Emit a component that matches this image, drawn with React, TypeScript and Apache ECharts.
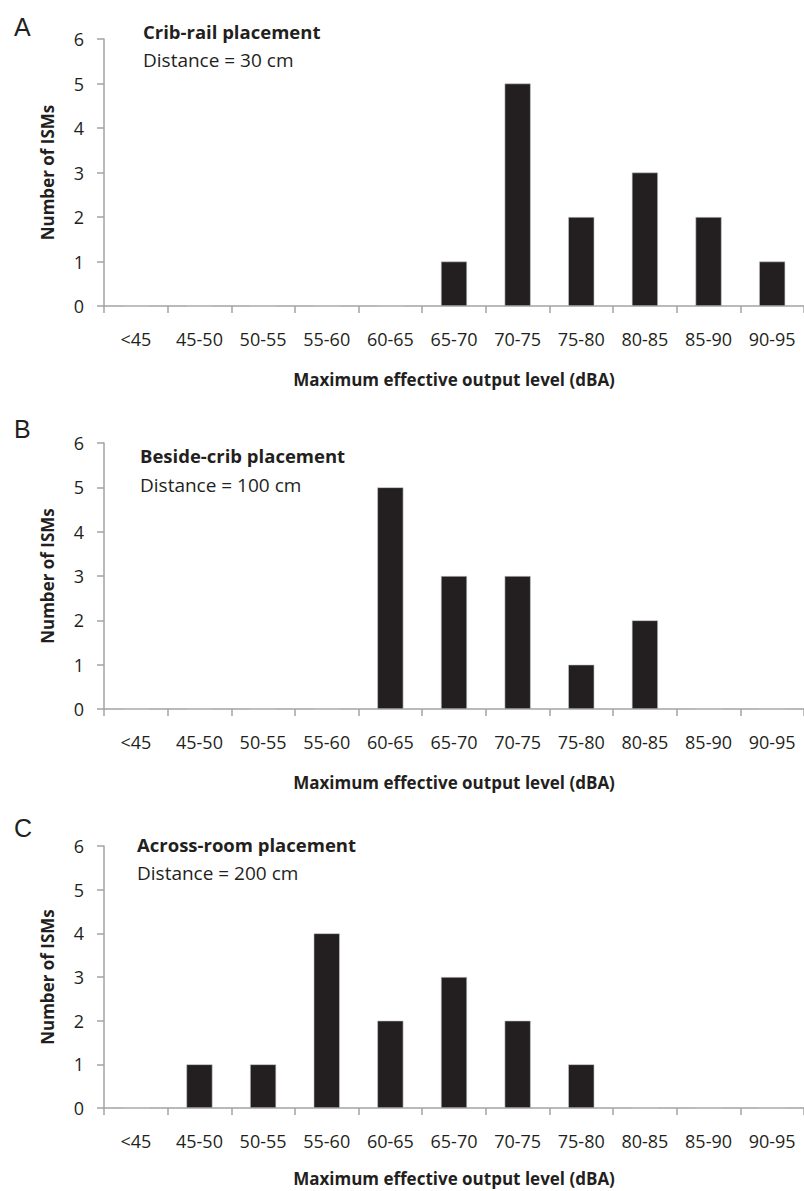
import React, { useEffect, useRef } from "react";
import * as echarts from "echarts";

const categories = ["<45", "45-50", "50-55", "55-60", "60-65", "65-70", "70-75", "75-80", "80-85", "85-90", "90-95"];
const cribRail = [0, 0, 0, 0, 0, 1, 5, 2, 3, 2, 1];
const besideCrib = [0, 0, 0, 0, 5, 3, 3, 1, 2, 0, 0];
const acrossRoom = [0, 1, 1, 4, 2, 3, 2, 1, 0, 0, 0];
const yTicks = [0, 1, 2, 3, 4, 5, 6];

const panelLetters = ["A", "B", "C"];
const panelTitles = ["Crib-rail placement", "Beside-crib placement", "Across-room placement"];
const panelSubtitles = ["Distance = 30 cm", "Distance = 100 cm", "Distance = 200 cm"];
const xTitle = "Maximum effective output level (dBA)";
const yTitle = "Number of ISMs";

const FONT = "Open Sans";
const AXIS_COLOR = "#a3a3a3";
const TEXT_COLOR = "#231f20";
const BAR_COLOR = "#231f20";

export default function App() {
  const ref = useRef<HTMLDivElement>(null);
  useEffect(() => {
    document.body.style.margin = "0";
    const chart = echarts.init(ref.current!, null, { renderer: "svg" });
    const grids = [
      { left: 104, right: 0, top: 39, height: 267 },
      { left: 104, right: 0, top: 443, height: 266 },
      { left: 104, right: 0, top: 846, height: 262 },
    ];
    const data = [cribRail, besideCrib, acrossRoom];
    const letterTops = [14, 416, 815];
    const titleTops = [22, 446, 835];
    const subTops = [50, 475, 863];
    const titleLefts = [143, 140, 137];
    const xNameGaps = [65, 65, 62];

    const titles: any[] = [];
    for (let i = 0; i < 3; i++) {
      titles.push({
        text: panelLetters[i],
        left: 14,
        top: letterTops[i],
        padding: 0,
        textStyle: { fontFamily: "Liberation Sans", fontWeight: "normal", fontSize: 25, color: TEXT_COLOR },
      });
      titles.push({
        text: panelTitles[i],
        left: titleLefts[i],
        top: titleTops[i],
        padding: 0,
        textStyle: { fontFamily: FONT, fontWeight: "bold", fontSize: 18.5, color: TEXT_COLOR },
      });
      titles.push({
        text: panelSubtitles[i],
        left: titleLefts[i],
        top: subTops[i],
        padding: 0,
        textStyle: { fontFamily: FONT, fontWeight: "normal", fontSize: 19, color: TEXT_COLOR },
      });
    }

    const option: any = {
      animation: false,
      backgroundColor: "#ffffff",
      title: titles,
      grid: grids,
      xAxis: grids.map((_, i) => ({
        type: "category",
        gridIndex: i,
        data: categories,
        name: xTitle,
        nameLocation: "middle",
        nameGap: xNameGaps[i],
        nameTextStyle: { fontFamily: FONT, fontWeight: "bold", fontSize: 17, color: TEXT_COLOR },
        axisLine: { lineStyle: { color: AXIS_COLOR, width: 1.5 } },
        axisTick: { show: true, length: 7, lineStyle: { color: AXIS_COLOR, width: 1.5 } },
        axisLabel: { margin: 24, fontFamily: FONT, fontSize: 18, color: TEXT_COLOR, interval: 0 },
        splitLine: { show: false },
      })),
      yAxis: grids.map((_, i) => ({
        type: "value",
        gridIndex: i,
        min: yTicks[0],
        max: yTicks[yTicks.length - 1],
        interval: 1,
        name: yTitle,
        nameLocation: "middle",
        nameRotate: 90,
        nameGap: 48,
        nameTextStyle: { fontFamily: FONT, fontWeight: "bold", fontSize: 17, color: TEXT_COLOR },
        axisLine: { show: true, lineStyle: { color: AXIS_COLOR, width: 1.5 } },
        axisTick: { show: true, length: 7, lineStyle: { color: AXIS_COLOR, width: 1.5 } },
        axisLabel: { margin: 20, fontFamily: FONT, fontSize: 18, color: TEXT_COLOR },
        splitLine: { show: false },
      })),
      series: data.map((d, i) => ({
        type: "bar",
        xAxisIndex: i,
        yAxisIndex: i,
        data: d,
        barWidth: "41%",
        itemStyle: { color: BAR_COLOR, borderColor: "#c8c8c8", borderWidth: 0.6 },
      })),
    };
    chart.setOption(option);
    return () => chart.dispose();
  }, []);
  return <div ref={ref} style={{ width: 804, height: 1191 }} />;
}
